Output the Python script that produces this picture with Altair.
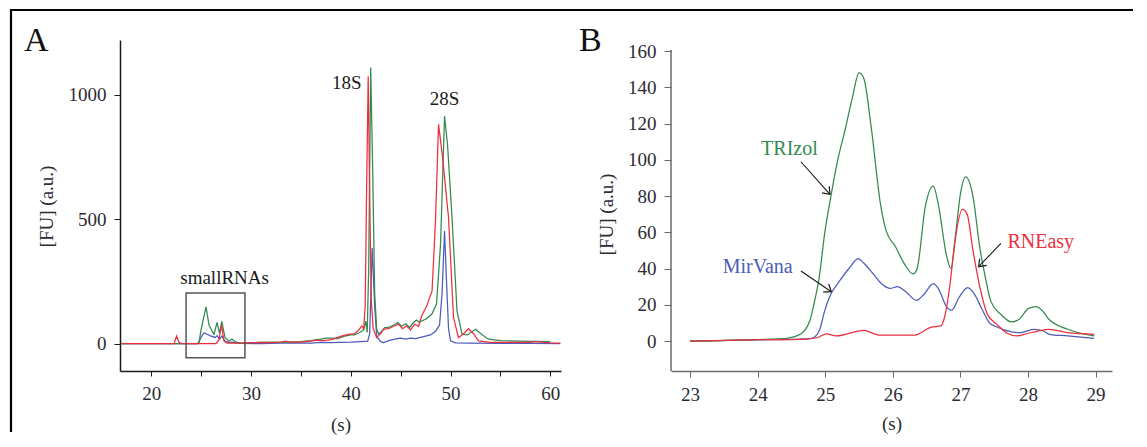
import altair as alt
import pandas as pd

FONT = "Liberation Serif, Times New Roman, serif"
GREEN = "#33894f"
BLUE = "#4c5cb8"
RED = "#ec2f3c"

# ---------------- Panel A data (full electropherogram) ----------------
A_TRIZOL_S = [17, 24.6, 24.8, 25.0, 25.5, 25.8, 26.1, 26.3, 26.6, 26.85, 27.08, 27.4, 27.8, 28.1, 28.5, 29,
              30, 31, 32, 33, 34, 35, 36, 37, 37.5, 38.1, 38.7, 39.4, 40, 40.4, 40.9, 41.3, 41.5, 41.65,
              41.8, 42.0, 42.2, 42.4, 42.6, 42.8, 43.1, 43.4, 43.8, 44.3, 44.7, 45.1, 45.5, 45.9, 46.3,
              46.6, 46.9, 47.1, 47.6, 48.15, 48.6, 49.0, 49.4, 49.7, 50.15, 50.65, 51.15, 51.7, 52.5,
              53.2, 53.8, 55, 57, 60]
A_TRIZOL_FU = [0, 0, 5, 55, 148, 75, 50, 38, 85, 42, 90, 25, 10, 19, 6, 2,
               4, 5, 6, 5, 7, 8, 12, 18, 22, 22, 20, 30, 35, 35, 45, 55, 91, 45,
               300, 1110, 700, 200, 60, 38, 50, 64, 65, 75, 85, 70, 80, 65, 85,
               95, 85, 91, 100, 120, 160, 400, 915, 800, 507, 131, 38, 35, 58,
               35, 18, 12, 10, 8]

A_MIRVANA_S = [17, 24.7, 25.0, 25.3, 25.6, 26.0, 26.4, 26.6, 26.85, 27.1, 27.4, 27.8, 28.1, 28.5, 29,
               31, 33, 35, 36, 37, 38, 39, 40, 41, 41.7, 41.9, 42.15, 42.4, 42.6, 43.0, 43.3, 43.8,
               44.4, 45, 45.5, 46, 46.5, 47, 47.5, 48, 48.5, 48.9, 49.15, 49.4, 49.6, 49.8, 50.0,
               50.5, 52, 55, 58, 61]
A_MIRVANA_FU = [0, 0, 25, 44, 38, 30, 25, 32, 18, 30, 10, 4, 6, 3, 1,
                0, 2, 3, 2, 5, 4, 5, 6, 8, 10, 40, 385, 150, 30, 8, 4, 12,
                18, 22, 18, 22, 20, 25, 30, 35, 50, 75, 200, 453, 250, 60, 11,
                3, 2, 1, 1, 0]

A_RNEASY_S = [17, 22.3, 22.55, 22.8, 23, 26.5, 26.8, 27.05, 27.3, 27.6, 29, 30, 31, 32, 33, 33.5, 34,
              35, 36, 36.6, 37.3, 38.1, 38.7, 39.4, 40, 40.4, 40.8, 41.1, 41.3, 41.45, 41.6, 41.75,
              41.9, 42.05, 42.25, 42.6, 43.0, 43.3, 43.8, 44.3, 44.8, 45.2, 45.6, 46.0, 46.4, 46.8,
              47.1, 47.6, 48.15, 48.5, 48.8, 49.2, 49.8, 50.3, 50.8, 51.3, 51.8, 52.3, 52.8, 54, 56,
              58, 58.5, 60, 61]
A_RNEASY_FU = [0, 0, 30, 5, 0, 0, 15, 75, 10, 2, 2, 4, 5, 4, 6, 10, 5,
               7, 10, 14, 12, 16, 25, 34, 38, 40, 55, 71, 60, 150, 650, 1075,
               600, 180, 60, 24, 40, 58, 60, 70, 78, 60, 72, 55, 78, 70,
               111, 150, 212, 500, 882, 750, 507, 105, 24, 40, 60, 40, 11, 5, 5,
               5, 8, 3, 2]

A_LABELS = ["18S", "28S", "smallRNAs"]
A_LABEL_S = [39.6, 49.4, 27.36]
A_LABEL_FU = [1050, 982, 262]
A_BOX_S = [23.5, 29.4]
A_BOX_FU = [-57, 204]

# ---------------- Panel B data (small RNA zoom) ----------------
B_TRIZOL_S = [23.0, 24.0, 24.43, 24.63, 24.77, 24.83, 24.91, 24.99, 25.07, 25.18, 25.29, 25.40, 25.50,
              25.57, 25.68, 25.82, 25.90, 26.04, 26.18, 26.30, 26.36, 26.48, 26.60, 26.68, 26.79,
              26.86, 26.93, 27.0, 27.08, 27.18, 27.29, 27.37, 27.45, 27.59, 27.76, 27.87, 28.01,
              28.12, 28.23, 28.31, 28.59, 28.98]
B_TRIZOL_FU = [0, 0.8, 1.5, 3.7, 11, 20, 35, 59, 77, 99, 116, 134, 148,
               145, 118, 75, 61, 52, 42, 37, 40, 74, 85.5, 74, 48,
               40, 59, 81, 90.5, 81, 51, 35, 22, 15, 10.5, 12, 18,
               19, 16, 12, 6.5, 2.8]

B_MIRVANA_S = [23.0, 24.0, 24.66, 24.80, 24.91, 24.99, 25.06, 25.21, 25.35, 25.49, 25.57, 25.71, 25.85,
               25.96, 26.07, 26.18, 26.35, 26.46, 26.60, 26.68, 26.79, 26.87, 26.98, 27.11, 27.21,
               27.32, 27.43, 27.54, 27.76, 27.87, 28.09, 28.23, 28.31, 28.59, 28.98]
B_MIRVANA_FU = [0, 0.6, 1, 1.5, 5.5, 16.5, 24, 33, 40, 45.4, 43, 37, 31,
                29, 30, 27.6, 22.4, 25.7, 31.6, 28.5, 19.3, 17, 24, 29.4, 25.7,
                17.5, 10, 7.7, 5, 4.6, 6.4, 5.5, 3.7, 2.8, 1.5]

B_RNEASY_S = [23.0, 24.0, 24.71, 24.88, 25.02, 25.16, 25.57, 25.79, 26.32, 26.57, 26.71, 26.77, 26.84,
              26.92, 27.03, 27.10, 27.18, 27.29, 27.40, 27.54, 27.68, 27.84, 27.98, 28.15, 28.31,
              28.59, 28.98]
B_RNEASY_FU = [0, 0.7, 1.1, 1.8, 4, 2.8, 5.9, 3.3, 3.3, 7.7, 8.3, 13.8, 29.4,
               55, 72.6, 70, 51.5, 29.4, 14.7, 9.2, 4.6, 2.8, 4, 5.5, 6.4,
               4.6, 3.7]

B_LABELS = ["TRIzol", "MirVana", "RNEasy"]
B_LABEL_COLORS = [GREEN, BLUE, RED]
B_LABEL_S = [24.47, 24.0, 28.19]
B_LABEL_FU = [106, 40.8, 54.6]
B_ARROW_S = [24.64, 24.64, 27.60]
B_ARROW_FU = [98.9, 38.6, 53.9]
B_ARROW_S2 = [25.07, 25.09, 27.27]
B_ARROW_FU2 = [80.9, 27.2, 41.0]
B_ARROW_ANGLE = [48, 34, 134]

W = 441
H = 331
ONE = pd.DataFrame({"k": [0]})

# ---------------- Panel A ----------------
sxA = alt.Scale(domain=[16.88, 61.07], nice=False, zero=False)
syA = alt.Scale(domain=[-110, 1221], nice=False, zero=False)
xA = alt.X("s:Q", scale=sxA,
           axis=alt.Axis(values=[20, 25, 30, 35, 40, 45, 50, 55, 60],
                         labelExpr="datum.value % 10 == 0 ? datum.label : ''",
                         title="(s)", grid=False, tickSize=5, labelPadding=8,
                         domainColor="#1a1a1a", tickColor="#1a1a1a", domainWidth=1.5,
                         titleY=53, titleBaseline="middle"))
yA = alt.Y("fu:Q", scale=syA,
           axis=alt.Axis(values=[0, 500, 1000], format="d", title="[FU] (a.u.)", grid=False,
                         tickSize=6, labelPadding=8, domainColor="#1a1a1a", tickColor="#1a1a1a",
                         domainWidth=1.5, titleX=-74, titleY=166, titleAngle=270,
                         titleAlign="center", titleBaseline="middle"))


def line(s, fu, color, x, y, interp):
    df = pd.DataFrame({"s": s, "fu": fu})
    return alt.Chart(df).mark_line(color=color, strokeWidth=1.25, interpolate=interp).encode(
        x=x, y=y, order="s:Q")


a_box = alt.Chart(pd.DataFrame({"s": [A_BOX_S[0]], "s2": [A_BOX_S[1]],
                                "fu": [A_BOX_FU[0]], "fu2": [A_BOX_FU[1]]})).mark_rect(
    fillOpacity=0, stroke="#555555", strokeWidth=1.5).encode(x=xA, x2="s2:Q", y=yA, y2="fu2:Q")

a_text = alt.Chart(pd.DataFrame({"s": A_LABEL_S, "fu": A_LABEL_FU, "label": A_LABELS})).mark_text(
    font=FONT, fontSize=19, color="#1a1a1a", align="center", baseline="middle").encode(
    x=xA, y=yA, text="label:N")

a_letter = alt.Chart(ONE).mark_text(text="A", font=FONT, fontSize=34, color="#111111",
                                    align="left", baseline="alphabetic").encode(
    x=alt.value(-96), y=alt.value(11))
frame_left = alt.Chart(ONE).mark_rule(color="#000000", strokeWidth=2.2).encode(
    x=alt.value(-109), y=alt.value(-30), y2=alt.value(392))
frame_topA = alt.Chart(ONE).mark_rule(color="#000000", strokeWidth=2.2).encode(
    x=alt.value(-110), x2=alt.value(560), y=alt.value(-30))

panelA = alt.layer(
    line(A_MIRVANA_S, A_MIRVANA_FU, BLUE, xA, yA, "linear"),
    line(A_TRIZOL_S, A_TRIZOL_FU, GREEN, xA, yA, "linear"),
    line(A_RNEASY_S, A_RNEASY_FU, RED, xA, yA, "linear"),
    a_box, a_text, a_letter, frame_left, frame_topA,
).properties(width=W, height=H)

# ---------------- Panel B ----------------
sxB = alt.Scale(domain=[22.717, 29.244], nice=False, zero=False)
syB = alt.Scale(domain=[-16.55, 166.07], nice=False, zero=False)
xB = alt.X("s:Q", scale=sxB,
           axis=alt.Axis(values=[23, 24, 25, 26, 27, 28, 29], format="d", title="(s)", grid=False,
                         tickSize=6, labelPadding=8, domainColor="#6a6a6a", tickColor="#6a6a6a",
                         domainWidth=1.5, titleY=52, titleBaseline="middle"))
yB = alt.Y("fu:Q", scale=syB,
           axis=alt.Axis(values=[0, 20, 40, 60, 80, 100, 120, 140, 160], title="[FU] (a.u.)",
                         grid=False, tickSize=7, labelPadding=8, domain=False,
                         tickColor="#6a6a6a", titleX=-65, titleY=174, titleAngle=270,
                         titleAlign="center", titleBaseline="middle"))

b_axisline = alt.Chart(ONE).mark_rule(color="#6a6a6a", strokeWidth=1.5).encode(
    x=alt.value(0), y=alt.value(10), y2=alt.value(H))

b_labels = alt.Chart(pd.DataFrame({"s": B_LABEL_S, "fu": B_LABEL_FU, "label": B_LABELS,
                                   "c": B_LABEL_COLORS})).mark_text(
    font=FONT, fontSize=20, align="center", baseline="middle").encode(
    x=xB, y=yB, text="label:N", color=alt.Color("c:N", scale=None))

arrow_df = pd.DataFrame({"s": B_ARROW_S, "fu": B_ARROW_FU, "s2": B_ARROW_S2, "fu2": B_ARROW_FU2,
                         "ang": B_ARROW_ANGLE})
b_shafts = alt.Chart(arrow_df).mark_rule(color="#1a1a1a", strokeWidth=1.1).encode(
    x=xB, y=yB, x2="s2:Q", y2="fu2:Q")
b_heads = alt.Chart(arrow_df).mark_point(
    shape="M -1 -0.75 L 0 0 L -1 0.75", size=170, filled=False, color="#1a1a1a",
    strokeWidth=1.2, opacity=1).encode(
    x=alt.X("s2:Q", scale=sxB), y=alt.Y("fu2:Q", scale=syB),
    angle=alt.Angle("ang:Q", scale=None))

b_letter = alt.Chart(ONE).mark_text(text="B", font=FONT, fontSize=34, color="#111111",
                                    align="left", baseline="alphabetic").encode(
    x=alt.value(-92), y=alt.value(11))
frame_topB = alt.Chart(ONE).mark_rule(color="#000000", strokeWidth=2.2).encode(
    x=alt.value(-20), x2=alt.value(462), y=alt.value(-30))

panelB = alt.layer(
    line(B_MIRVANA_S, B_MIRVANA_FU, BLUE, xB, yB, "monotone"),
    line(B_TRIZOL_S, B_TRIZOL_FU, GREEN, xB, yB, "monotone"),
    line(B_RNEASY_S, B_RNEASY_FU, RED, xB, yB, "monotone"),
    b_axisline, b_shafts, b_heads, b_labels, b_letter, frame_topB,
).properties(width=W, height=H)

chart = alt.hconcat(panelA, panelB, spacing=110, bounds="flush", padding=0).configure_view(
    stroke="transparent").configure_axis(
    labelFont=FONT, titleFont=FONT, labelFontSize=19, titleFontSize=19,
    titleFontWeight="normal", labelColor="#2b2b33", titleColor="#2b2b33")

chart.save("out.html", embed_options={"renderer": "svg", "actions": False})
